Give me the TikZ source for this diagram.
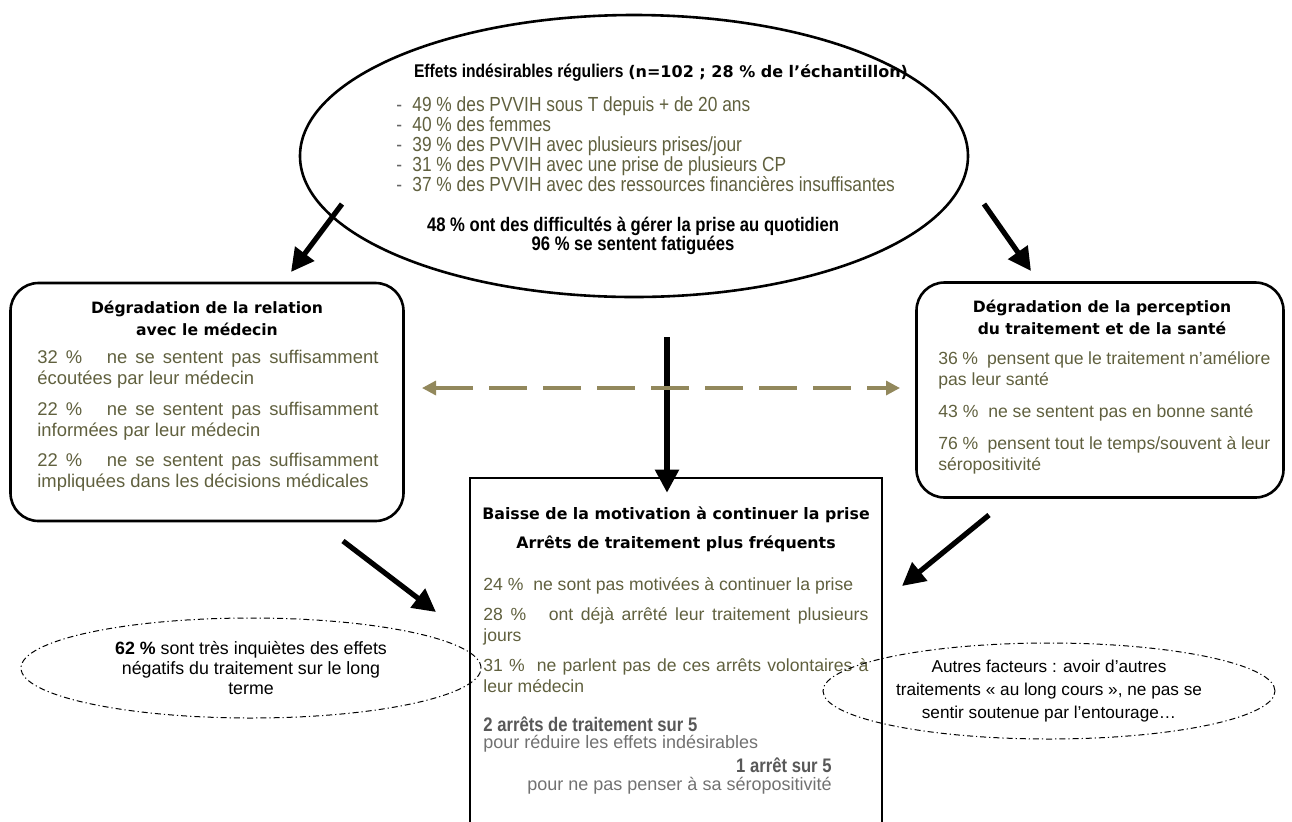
\documentclass[tikz,border=0pt]{standalone}
\usepackage{fontspec}
\setmainfont{Liberation Sans}
\newfontfamily\narrowfont[FakeStretch=0.85]{Liberation Sans}
\newfontfamily\headfont{DejaVu Sans}
\usepackage{xcolor}
\usetikzlibrary{arrows.meta,positioning,shapes.geometric}

\definecolor{txtolive}{RGB}{96,96,62}
\definecolor{txtgray}{RGB}{88,88,88}
\definecolor{dashkhaki}{RGB}{146,136,92}

\begin{document}
\begin{tikzpicture}[x=0.5pt,y=-0.5pt,
  font=\fontsize{8.8}{10.5}\selectfont,
  bigarrow/.style={line width=2.6pt,-{Triangle[length=11.5pt,width=11.5pt]}},
  softarrow/.style={dashkhaki,line width=1.6pt,dash pattern=on 19pt off 8pt,
    {Triangle[length=7pt,width=7pt]}-{Triangle[length=7pt,width=7pt]}},
  roundbox/.style={draw,line width=1.3pt,rounded corners=14pt,inner sep=0pt},
  cloud/.style={draw,ellipse,dash pattern=on 3pt off 1.5pt on 0.6pt off 1.5pt,
    line width=0.5pt,inner sep=0pt,align=center},
  head/.style={font=\headfont\bfseries\fontsize{7.8}{11}\selectfont,align=center},
  stats/.style={txtolive,align=justify,inner sep=0pt,anchor=north west},
  bignum/.style={font=\narrowfont\bfseries\fontsize{9.8}{9.5}\selectfont,align=center}]
\useasboundingbox (0,0) rectangle (1292,821);

% effets indesirables
\node[draw,ellipse,line width=1.3pt,minimum width=334pt,minimum height=141pt] (effets) at (634,156) {};
\node (effetstitre) at (661,73) {{\narrowfont\bfseries\fontsize{9.2}{11}\selectfont Effets indésirables réguliers}
  {\headfont\bfseries\fontsize{8}{11}\selectfont (n=102 ; 28 \% de l’échantillon)}};
\node[txtolive,anchor=west,inner sep=0pt,align=left,font=\narrowfont\fontsize{10.2}{10}\selectfont] (profil) at (396,144)
  {\makebox[8pt][l]{\color{black!60}-}49 \% des PVVIH sous T depuis + de 20 ans\\
   \makebox[8pt][l]{\color{black!60}-}40 \% des femmes\\
   \makebox[8pt][l]{\color{black!60}-}39 \% des PVVIH avec plusieurs prises/jour\\
   \makebox[8pt][l]{\color{black!60}-}31 \% des PVVIH avec une prise de plusieurs CP\\
   \makebox[8pt][l]{\color{black!60}-}37 \% des PVVIH avec des ressources financières insuffisantes};
\node[bignum] (difficultes) at (633,236) {48 \% ont des difficultés à gérer la prise au quotidien\\96 \% se sentent fatiguées};

% relation medecin
\node[roundbox,minimum width=196.5pt,minimum height=119pt] (relation) at (207,402) {};
\node[head] (relationtitre) at (207,318) {Dégradation de la relation\\avec le médecin};
\node[stats,text width=170.5pt,font=\fontsize{9.2}{10.5}\selectfont] (relationtxt) at (37,350)
  {32 \%\ \ \ ne se sentent pas suffisamment\linebreak écoutées par leur médecin\par\vspace{5pt}
   22 \%\ \ \ ne se sentent pas suffisamment\linebreak informées par leur médecin\par\vspace{4.5pt}
   22 \%\ \ \ ne se sentent pas suffisamment\linebreak impliquées dans les décisions médicales};

% perception traitement
\node[roundbox,minimum width=183.5pt,minimum height=107.5pt] (perception) at (1100,390) {};
\node[head] (perceptiontitre) at (1102,317) {Dégradation de la perception\\du traitement et de la santé};
\node[stats,text width=166pt] (perceptiontxt) at (938,351)
  {36 \%\ \ pensent que le traitement n’améliore\linebreak pas leur santé\par\vspace{5.5pt}
   43 \%\ \ ne se sentent pas en bonne santé\par\vspace{5.5pt}
   76 \%\ \ pensent tout le temps/souvent à leur\linebreak séropositivité};

% motivation
\node[draw,line width=1.3pt,minimum width=206pt,minimum height=181pt,inner sep=0pt] (motivation) at (676,659) {};
\node[head,font=\headfont\bfseries\fontsize{7.9}{14.5}\selectfont] (motivationtitre) at (676,529)
  {Baisse de la motivation à continuer la prise\\Arrêts de traitement plus fréquents};
\node[stats,text width=192.5pt] (motivationtxt) at (483,577)
  {24 \%\ \ ne sont pas motivées à continuer la prise\par\vspace{4.5pt}
   28 \%\ \ \ ont déjà arrêté leur traitement plusieurs\linebreak jours\par\vspace{4.5pt}
   31 \%\ \ ne parlent pas de ces arrêts volontaires à\linebreak leur médecin};
\node[txtgray,anchor=west,inner sep=0pt,font=\narrowfont\bfseries\fontsize{9.8}{10}\selectfont] (deuxarrets) at (483,724) {2 arrêts de traitement sur 5};
\node[txtgray!85,anchor=west,inner sep=0pt,font=\fontsize{9}{10}\selectfont] (reduire) at (483,744) {pour réduire les effets indésirables};
\node[txtgray,anchor=east,inner sep=0pt,font=\narrowfont\bfseries\fontsize{9.8}{10}\selectfont] (unarret) at (832,765) {1 arrêt sur 5};
\node[txtgray!85,anchor=east,inner sep=0pt,font=\fontsize{9}{10}\selectfont] (penser) at (832,786) {pour ne pas penser à sa séropositivité};

% autres elements
\node[cloud,minimum width=230pt,minimum height=50pt,font=\fontsize{8.9}{10}\selectfont] (inquietes) at (251,668)
  {\textbf{62 \%} sont très inquiètes des effets\\négatifs du traitement sur le long\\terme};
\node[cloud,minimum width=226pt,minimum height=48pt,font=\fontsize{8.6}{11.5}\selectfont] (autres) at (1049,691)
  {Autres facteurs : avoir d’autres\\traitements « au long cours », ne pas se\\sentir soutenue par l’entourage…};

% fleches
\coordinate (g1) at (342,204);
\coordinate (g2) at (291,272);
\coordinate (d1) at (984,204);
\coordinate (d2) at (1031,271);
\coordinate (c1) at (667,337);
\coordinate (bg1) at (343,541);
\coordinate (bg2) at (436,612);
\coordinate (bd1) at (989,515);
\coordinate (bd2) at (902,586);
\coordinate (h1) at (422,388);
\coordinate (h2) at (900,388);
\draw[bigarrow] (g1) -- (g2);
\draw[bigarrow] (d1) -- (d2);
\draw[bigarrow] (c1) -- ([yshift=-8pt]motivation.north -| c1);
\draw[bigarrow] (bg1) -- (bg2);
\draw[bigarrow] (bd1) -- (bd2);
\draw[softarrow] (h1) -- (h2);
\end{tikzpicture}
\end{document}
